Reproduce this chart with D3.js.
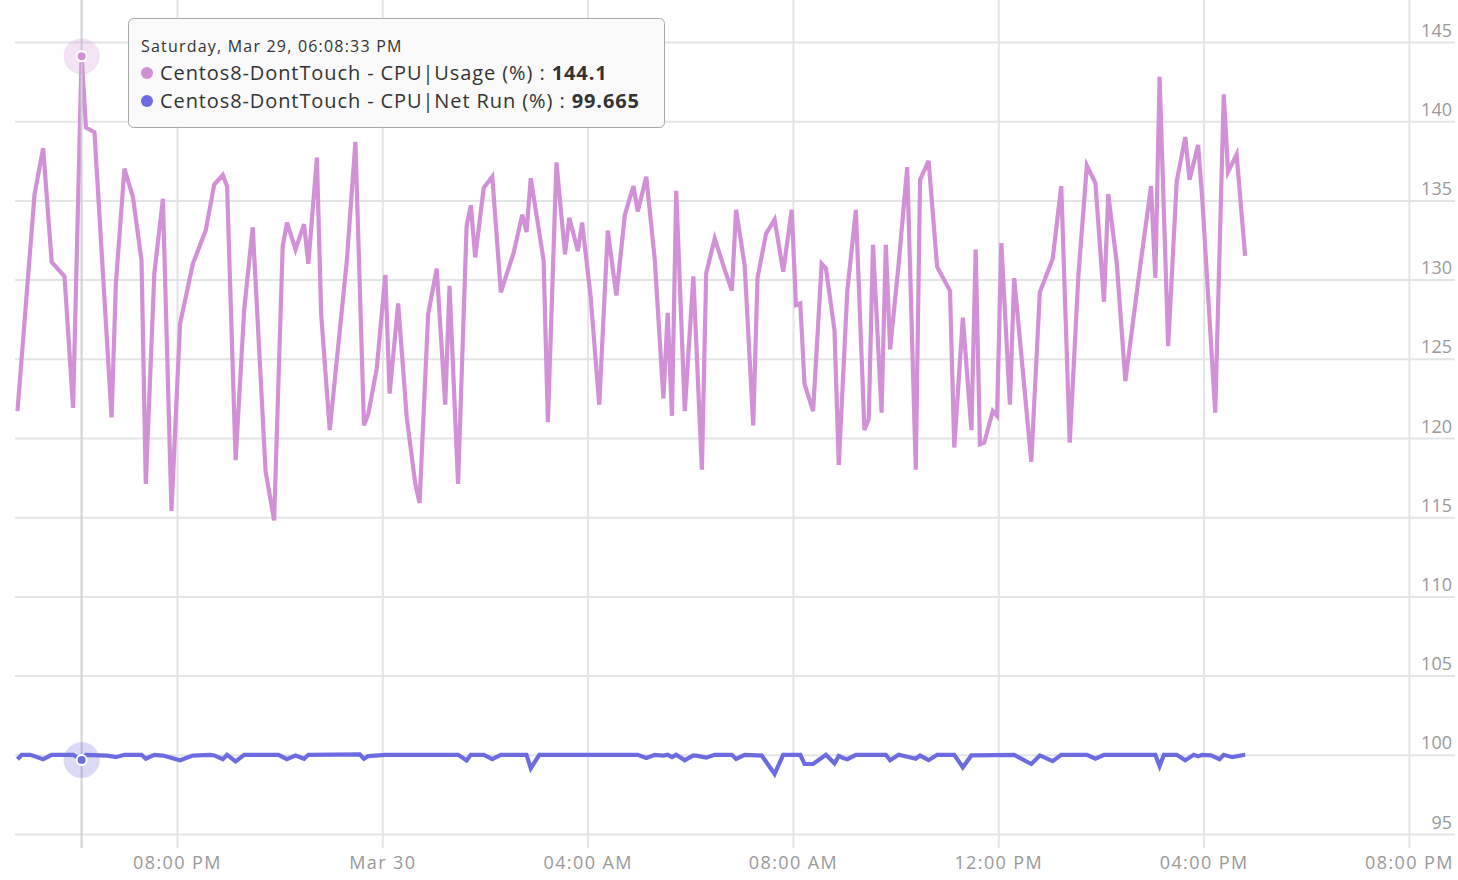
<!DOCTYPE html>
<html>
<head>
<meta charset="utf-8">
<script src="https://cdn.jsdelivr.net/npm/d3@7"></script>
<style>
  body { margin: 0; background: #fff; font-family: "Open Sans", sans-serif; }
  .tick text { fill: #999; font-size: 18px; font-family: "Open Sans", sans-serif; }
  .tick line { stroke: #e2e4e6; stroke-width: 2; }
</style>
</head>
<body>
<div id="chart"></div>
<script>
// data: "DD HH:MM" in March 2025, samples land on :x3:33 / :x8:33
const usageTimes = [
  "29 16:53", "29 17:13", "29 17:23", "29 17:33", "29 17:48", "29 17:58", "29 18:08", "29 18:13", "29 18:23", "29 18:43",
  "29 18:48", "29 18:58", "29 19:08", "29 19:18", "29 19:23", "29 19:33", "29 19:43", "29 19:53", "29 20:03", "29 20:18",
  "29 20:33", "29 20:43", "29 20:53", "29 20:58", "29 21:08", "29 21:18", "29 21:28", "29 21:43", "29 21:53", "29 22:03",
  "29 22:08", "29 22:18", "29 22:28", "29 22:33", "29 22:43", "29 22:48", "29 22:58", "29 23:18", "29 23:28", "29 23:38",
  "29 23:43", "29 23:53", "30 00:03", "30 00:08", "30 00:18", "30 00:28", "30 00:38", "30 00:43", "30 00:53", "30 01:03",
  "30 01:13", "30 01:18", "30 01:28", "30 01:38", "30 01:43", "30 01:48", "30 01:58", "30 02:08", "30 02:18", "30 02:33",
  "30 02:43", "30 02:48", "30 02:53", "30 03:08", "30 03:13", "30 03:23", "30 03:33", "30 03:38", "30 03:48", "30 03:53",
  "30 04:03", "30 04:13", "30 04:23", "30 04:33", "30 04:43", "30 04:53", "30 04:58", "30 05:08", "30 05:18", "30 05:28",
  "30 05:33", "30 05:38", "30 05:43", "30 05:53", "30 06:03", "30 06:13", "30 06:18", "30 06:28", "30 06:38", "30 06:48",
  "30 06:53", "30 07:03", "30 07:13", "30 07:18", "30 07:28", "30 07:38", "30 07:48", "30 07:58", "30 08:03", "30 08:08",
  "30 08:13", "30 08:23", "30 08:33", "30 08:38", "30 08:48", "30 08:53", "30 09:03", "30 09:13", "30 09:23", "30 09:28",
  "30 09:33", "30 09:43", "30 09:48", "30 09:53", "30 10:03", "30 10:13", "30 10:23", "30 10:28", "30 10:38", "30 10:48",
  "30 11:03", "30 11:08", "30 11:18", "30 11:28", "30 11:33", "30 11:38", "30 11:43", "30 11:53", "30 11:58", "30 12:03",
  "30 12:13", "30 12:18", "30 12:38", "30 12:48", "30 13:03", "30 13:13", "30 13:23", "30 13:33", "30 13:43", "30 13:53",
  "30 14:03", "30 14:08", "30 14:18", "30 14:28", "30 14:43", "30 14:58", "30 15:03", "30 15:08", "30 15:18", "30 15:28",
  "30 15:38", "30 15:43", "30 15:53", "30 15:58", "30 16:13", "30 16:23", "30 16:28", "30 16:38", "30 16:48"
];
const usageValues = [
  121.7, 135.4, 138.3, 131.1, 130.2, 121.9, 144.1, 139.6, 139.3, 121.3,
  129.7, 137.0, 135.2, 131.2, 117.1, 130.4, 135.1, 115.4, 127.2, 131.0,
  133.1, 136.0, 136.6, 135.9, 118.6, 128.1, 133.3, 117.9, 114.8, 132.1,
  133.6, 131.9, 133.5, 131.0, 137.7, 127.8, 120.5, 131.2, 138.7, 120.8,
  121.5, 124.4, 130.3, 122.8, 128.5, 121.3, 117.1, 115.9, 127.8, 130.7,
  122.1, 129.6, 117.1, 133.4, 134.7, 131.4, 135.8, 136.5, 129.2, 131.7,
  134.1, 133.0, 136.4, 131.2, 121.0, 137.4, 131.6, 133.9, 131.8, 133.6,
  128.9, 122.1, 133.1, 129.0, 134.1, 135.9, 134.3, 136.5, 131.2, 122.5,
  127.9, 121.4, 135.6, 121.7, 130.2, 118.0, 130.4, 132.6, 130.9, 129.3,
  134.4, 130.9, 120.8, 130.1, 132.9, 133.8, 130.5, 134.4, 128.4, 128.5,
  123.4, 121.7, 131.0, 130.7, 126.8, 118.3, 129.3, 134.4, 120.5, 121.2,
  132.2, 121.6, 132.2, 125.6, 131.0, 137.1, 118.0, 136.3, 137.5, 130.8,
  129.3, 119.4, 127.6, 120.5, 131.9, 119.6, 119.7, 121.7, 121.4, 132.3,
  122.1, 130.1, 118.5, 129.2, 131.3, 135.9, 119.7, 130.2, 137.2, 136.1,
  128.6, 135.4, 131.0, 123.6, 129.9, 135.9, 130.1, 142.8, 125.8, 136.2,
  139.0, 136.3, 138.5, 135.0, 121.6, 141.7, 136.8, 137.9, 131.5
];

const netRunTimes = [
  "29 16:53", "29 16:58", "29 17:08", "29 17:23", "29 17:33", "29 17:58", "29 18:08", "29 18:13", "29 18:38", "29 18:48",
  "29 18:58", "29 19:18", "29 19:23", "29 19:33", "29 19:43", "29 20:03", "29 20:18", "29 20:38", "29 20:43", "29 20:53",
  "29 20:58", "29 21:08", "29 21:18", "29 21:58", "29 22:08", "29 22:18", "29 22:28", "29 22:33", "29 23:33", "29 23:38",
  "29 23:43", "30 00:03", "30 01:08", "30 01:28", "30 01:38", "30 01:43", "30 01:58", "30 02:08", "30 02:18", "30 02:48",
  "30 02:53", "30 03:03", "30 04:58", "30 05:08", "30 05:18", "30 05:28", "30 05:33", "30 05:38", "30 05:43", "30 05:53",
  "30 06:03", "30 06:08", "30 06:18", "30 06:28", "30 06:48", "30 06:53", "30 07:03", "30 07:23", "30 07:38", "30 07:48",
  "30 08:08", "30 08:13", "30 08:23", "30 08:38", "30 08:48", "30 08:53", "30 08:58", "30 09:03", "30 09:13", "30 09:48",
  "30 09:53", "30 10:03", "30 10:23", "30 10:28", "30 10:38", "30 10:48", "30 11:08", "30 11:18", "30 11:28", "30 12:18",
  "30 12:38", "30 12:48", "30 13:03", "30 13:13", "30 13:43", "30 13:53", "30 14:03", "30 15:03", "30 15:08", "30 15:13",
  "30 15:28", "30 15:38", "30 15:48", "30 15:53", "30 15:58", "30 16:08", "30 16:18", "30 16:23", "30 16:33", "30 16:48"
];
const netRunValues = [
  99.72, 100.0, 100.0, 99.72, 100.0, 100.0, 99.665, 100.0, 99.95, 99.85,
  100.0, 100.0, 99.75, 100.0, 99.95, 99.66, 99.95, 100.0, 99.96, 99.72,
  100.0, 99.58, 100.0, 100.0, 99.72, 99.96, 99.75, 100.0, 100.03, 99.75,
  99.92, 100.0, 100.0, 100.0, 99.65, 100.0, 100.0, 99.72, 100.0, 100.0,
  99.15, 100.0, 100.0, 99.8, 100.0, 99.95, 100.0, 99.85, 100.0, 99.66,
  99.96, 99.93, 99.82, 100.0, 100.0, 99.74, 100.0, 99.95, 98.79, 100.0,
  100.0, 99.42, 99.42, 100.0, 99.46, 99.93, 99.8, 99.72, 100.0, 100.0,
  99.66, 100.0, 99.75, 99.95, 99.66, 100.0, 100.0, 99.21, 99.96, 100.0,
  99.42, 99.96, 99.6, 100.0, 100.0, 99.75, 100.0, 100.0, 99.29, 100.0,
  100.0, 99.66, 100.0, 99.9, 100.0, 99.96, 99.72, 100.0, 99.85, 100.0
];

const seriesNames = ["Centos8-DontTouch - CPU|Usage (%)", "Centos8-DontTouch - CPU|Net Run (%)"];
const seriesColors = ["#d291d6", "#6c6ce0"];
const yTicks = [95, 100, 105, 110, 115, 120, 125, 130, 135, 140, 145];
const yDomain = [95, 145];
const xDomain = ["29 16:50:40", "30 20:53:50"];
const hoverTime = "29 18:08";

const width = 1458;
const height = 880;
const plot = { left: 15, right: 1455, top: 42, bottom: 834, gridBottom: 848 };

const parseFull = d3.timeParse("%Y-%m-%d %H:%M:%S");
const parseTime = (s) => parseFull("2025-03-" + s + ":33");
const parseEdge = (s) => parseFull("2025-03-" + s);

const usage = usageTimes.map((t, i) => ({ date: parseTime(t), value: usageValues[i] }));
const netRun = netRunTimes.map((t, i) => ({ date: parseTime(t), value: netRunValues[i] }));
const series = [usage, netRun];

const x = d3.scaleTime()
  .domain(xDomain.map(parseEdge))
  .range([plot.left, plot.right]);

const y = d3.scaleLinear()
  .domain(yDomain)
  .range([plot.bottom, plot.top]);

const svg = d3.select("#chart")
  .append("svg")
  .attr("width", width)
  .attr("height", height);

// horizontal grid + right labels
const yAxis = svg.append("g")
  .attr("transform", `translate(${plot.right}, 0)`)
  .call(d3.axisRight(y).tickValues(yTicks).tickSize(-(plot.right - plot.left)).tickPadding(0));
yAxis.select(".domain").remove();
yAxis.selectAll(".tick text")
  .attr("x", -3)
  .attr("dy", -6)
  .attr("text-anchor", "end");

// vertical grid + bottom labels
const fmtHour = d3.timeFormat("%I:%M %p");
const fmtDay = d3.timeFormat("%b %d");
const xAxis = svg.append("g")
  .attr("transform", `translate(0, ${plot.gridBottom})`)
  .call(
    d3.axisBottom(x)
      .ticks(d3.timeHour.every(4))
      .tickSize(-plot.gridBottom)
      .tickPadding(8)
      .tickFormat((d) => (d.getHours() === 0 ? fmtDay(d) : fmtHour(d)))
  );
xAxis.select(".domain").remove();
xAxis.selectAll(".tick text").style("letter-spacing", "1.4px");

// lines
const line = d3.line()
  .x((d) => x(d.date))
  .y((d) => y(d.value));

svg.selectAll(".series")
  .data(series)
  .join("path")
  .attr("class", "series")
  .attr("d", line)
  .attr("fill", "none")
  .attr("stroke", (d, i) => seriesColors[i])
  .attr("stroke-width", 4.2);

// hover crosshair + markers
const hoverDate = parseTime(hoverTime);
const hx = x(hoverDate);
svg.append("line")
  .attr("x1", hx).attr("x2", hx)
  .attr("y1", 0).attr("y2", plot.gridBottom)
  .attr("stroke", "#cfd1d4")
  .attr("stroke-width", 2);

const hovered = series.map((s) => s.find((d) => +d.date === +hoverDate));

const marks = svg.selectAll(".hover")
  .data(hovered)
  .join("g")
  .attr("class", "hover")
  .attr("transform", (d) => `translate(${x(d.date)}, ${y(d.value)})`);
marks.append("circle")
  .attr("r", 18)
  .attr("fill", (d, i) => seriesColors[i])
  .attr("fill-opacity", 0.25);
marks.append("circle")
  .attr("r", 5)
  .attr("fill", (d, i) => seriesColors[i])
  .attr("stroke", "#fff")
  .attr("stroke-width", 2);

// tooltip
const tip = svg.append("g").attr("transform", "translate(128, 18)");
tip.append("rect")
  .attr("x", 0.5).attr("y", 0.5)
  .attr("width", 536).attr("height", 109)
  .attr("rx", 5)
  .attr("fill", "#fafafa")
  .attr("fill-opacity", 0.96)
  .attr("stroke", "#a8a8a8");

tip.append("text")
  .attr("x", 13)
  .attr("y", 34)
  .attr("fill", "#333")
  .style("font-size", "16px")
  .style("letter-spacing", "1.2px")
  .text(d3.timeFormat("%A, %b %d, %I:%M:%S %p")(hoverDate));

const rows = tip.selectAll(".row")
  .data(hovered)
  .join("g")
  .attr("class", "row")
  .attr("transform", (d, i) => `translate(0, ${55 + i * 28})`);
rows.append("circle")
  .attr("cx", 19)
  .attr("r", 6)
  .attr("fill", (d, i) => seriesColors[i]);
const rowText = rows.append("text")
  .attr("x", 32)
  .attr("y", 7)
  .attr("fill", "#333")
  .style("font-size", "20px")
  .style("letter-spacing", "0.9px");
rowText.append("tspan").text((d, i) => seriesNames[i] + " : ");
rowText.append("tspan").attr("font-weight", "bold").text((d) => d.value);
</script>
</body>
</html>
